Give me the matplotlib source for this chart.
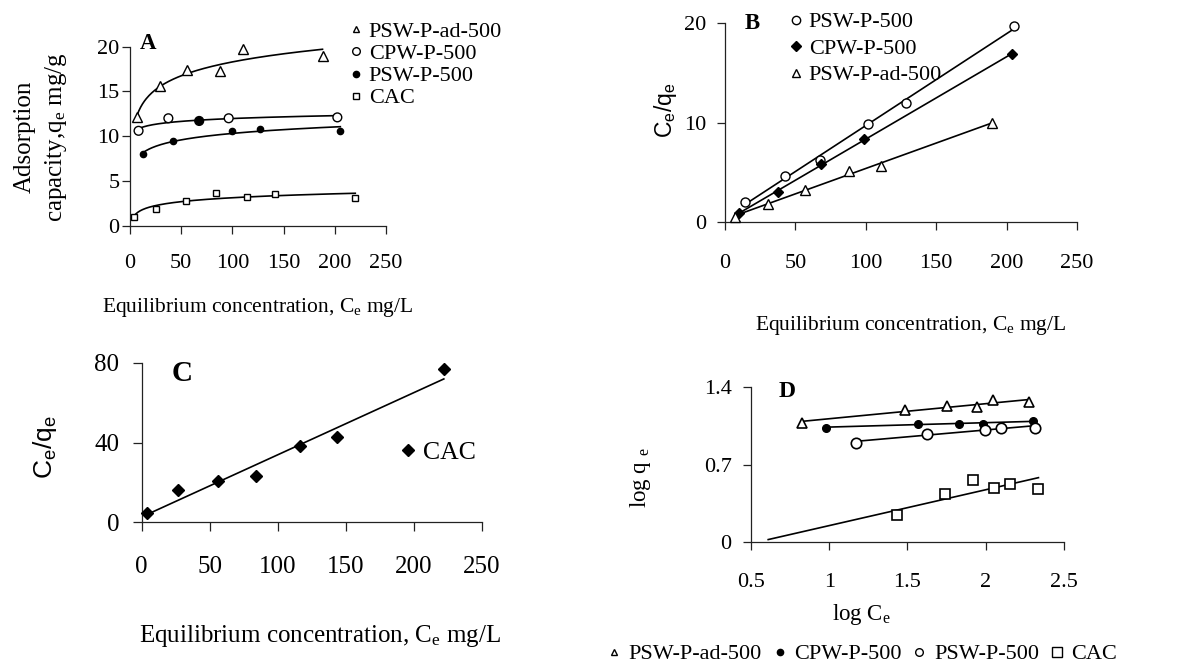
import numpy as np
import matplotlib
matplotlib.use('Agg')
import matplotlib.pyplot as plt
from matplotlib.lines import Line2D

plt.rcParams['font.family'] = ['Liberation Serif', 'DejaVu Serif']
plt.rcParams['mathtext.fontset'] = 'custom'
plt.rcParams['mathtext.rm'] = 'Liberation Serif'
plt.rcParams['mathtext.it'] = 'Liberation Serif:italic'
plt.rcParams['mathtext.sf'] = 'Liberation Sans'

# ---------------- Panel A: adsorption isotherms (Ce, qe) ----------------
a_ad_x = [6.8, 29.8, 55.6, 88.0, 110.6, 188.0]
a_ad_q = [12.1, 15.6, 17.4, 17.3, 19.7, 19.0]
a_cpw_x = [8.4, 37.5, 67.6, 96.4, 202.5]
a_cpw_q = [10.6, 12.0, 11.7, 12.0, 12.1]
a_psw_x = [12.9, 42.0, 99.6, 127.0, 205.4]
a_psw_q = [8.0, 9.5, 10.6, 10.8, 10.6]
a_cac_x = [3.6, 25.9, 54.7, 83.8, 114.0, 141.3, 220.0]
a_cac_q = [1.0, 1.9, 2.8, 3.7, 3.25, 3.5, 3.05]

# ---------------- Panel B: Langmuir (Ce vs Ce/qe) ----------------
b_psw_x = [14.2, 42.5, 67.4, 101.3, 128.4, 205.5]
b_psw_y = [2.0, 4.67, 6.24, 9.85, 12.0, 19.67]
b_cpw_x = [9.7, 37.3, 68.5, 98.6, 203.7]
b_cpw_y = [0.9, 3.07, 5.8, 8.3, 16.86]
b_ad_x = [6.8, 30.5, 56.5, 88.2, 110.8, 189.9]
b_ad_y = [0.57, 1.84, 3.24, 5.14, 5.64, 9.98]

# ---------------- Panel C: Langmuir CAC ----------------
c_cac_x = [4.2, 26.7, 55.8, 84.3, 116.4, 143.1, 221.9]
c_cac_y = [4.5, 16.3, 20.8, 23.1, 38.2, 42.8, 76.6]

# ---------------- Panel D: Freundlich (log Ce vs log qe) ----------------
d_ad_x = [0.825, 1.482, 1.75, 1.945, 2.048, 2.274]
d_ad_y = [1.078, 1.189, 1.226, 1.22, 1.28, 1.265]
d_cpw_x = [0.98, 1.57, 1.828, 1.985, 2.30]
d_cpw_y = [1.033, 1.069, 1.069, 1.069, 1.09]
d_psw_x = [1.17, 1.625, 1.995, 2.10, 2.316]
d_psw_y = [0.897, 0.979, 1.015, 1.033, 1.033]
# first CAC point lies on the x axis (no visible marker)
d_cac_x = [0.61, 1.432, 1.74, 1.918, 2.05, 2.154, 2.337]
d_cac_y = [0.0, 0.25, 0.437, 0.563, 0.491, 0.527, 0.476]

names = ['PSW-P-ad-500', 'CPW-P-500', 'PSW-P-500', 'CAC']

LW = 1.2
K = 'black'


def style(ax, xlim, ylim, xticks, yticks, fs, xpad, ypad, ticklen=5.5):
    ax.set_xlim(*xlim)
    ax.set_ylim(*ylim)
    ax.set_xticks(xticks)
    ax.set_yticks(yticks)
    for s in ['top', 'right']:
        ax.spines[s].set_visible(False)
    for s in ['left', 'bottom']:
        ax.spines[s].set_linewidth(0.9)
        ax.spines[s].set_color('#222222')
    ax.tick_params(axis='both', direction='out', length=ticklen, width=0.9,
                   color='#222222', labelsize=fs)
    ax.tick_params(axis='x', pad=xpad)
    ax.tick_params(axis='y', pad=ypad)
    ax.patch.set_alpha(0)


def log_trend(ax, x, q):
    # logarithmic trend line  q = a ln(Ce) + b, fitted to the points
    a, b = np.polyfit(np.log(x), q, 1)
    xs = np.linspace(min(x), max(x), 200)
    ax.plot(xs, a * np.log(xs) + b, color=K, lw=LW, zorder=2)


def linear_fit(ax, x, y):
    m, b = np.polyfit(x, y, 1)
    xs = np.array([min(x), max(x)])
    ax.plot(xs, m * xs + b, color=K, lw=LW, zorder=2)


fig = plt.figure(figsize=(12.01, 6.62), dpi=100)

# ================= Panel A =================
axA = fig.add_axes([0.1082, 0.6591, 0.2132, 0.2704])
style(axA, (0, 250), (0, 20), range(0, 251, 50), range(0, 21, 5), 16, 15, 2)
for x, q in [(a_ad_x, a_ad_q), (a_cpw_x, a_cpw_q), (a_psw_x, a_psw_q), (a_cac_x, a_cac_q)]:
    log_trend(axA, x, q)
axA.plot(a_ad_x, a_ad_q, ls='none', marker='^', ms=6.5, mfc='white', mec=K, mew=1.0, zorder=3, clip_on=False)
cpw_faces = ['white', 'white', 'black', 'white', 'white']
axA.scatter(a_cpw_x, a_cpw_q, s=40, marker='o', facecolors=cpw_faces, edgecolors=K, linewidths=1.0, zorder=3, clip_on=False)
axA.plot(a_psw_x, a_psw_q, ls='none', marker='o', ms=4.5, mfc=K, mec=K, zorder=3, clip_on=False)
axA.plot(a_cac_x, a_cac_q, ls='none', marker='s', ms=4.2, mfc='white', mec=K, mew=1.0, zorder=3, clip_on=False)
hA = [Line2D([], [], ls='none', marker='^', ms=5, mfc='white', mec=K, mew=1.0),
      Line2D([], [], ls='none', marker='o', ms=5.5, mfc='white', mec=K, mew=1.0),
      Line2D([], [], ls='none', marker='o', ms=4.5, mfc=K, mec=K),
      Line2D([], [], ls='none', marker='s', ms=4.2, mfc='white', mec=K, mew=1.0)]
axA.legend(hA, names, loc='upper left', bbox_to_anchor=(0.85, 1.14), frameon=False,
           fontsize=16, handlelength=0.75, handletextpad=0.2, labelspacing=0.07,
           borderpad=0, borderaxespad=0)
axA.text(0.072, 1.02, 'A', transform=axA.transAxes, fontsize=16.5, fontweight='bold',
         ha='center', va='center')
axA.set_xlabel('Equilibrium concentration, C$_{\\mathrm{e}}$ mg/L', fontsize=15.5)
axA.xaxis.set_label_coords(0.5, -0.455)
axA.xaxis.label.set_va('center')
axA.set_ylabel('Adsorption\ncapacity,q$_{\\mathrm{e}}$ mg/g', fontsize=18, linespacing=1.35)
axA.yaxis.set_label_coords(-0.346, 0.497)
axA.yaxis.label.set_va('center')

# ================= Panel B =================
axB = fig.add_axes([0.6037, 0.6642, 0.2931, 0.3015])
style(axB, (0, 250), (0, 20), range(0, 251, 50), range(0, 21, 10), 16, 17, 8)
for x, y in [(b_psw_x, b_psw_y), (b_cpw_x, b_cpw_y), (b_ad_x, b_ad_y)]:
    linear_fit(axB, x, y)
axB.plot(b_psw_x, b_psw_y, ls='none', marker='o', ms=6.5, mfc='white', mec=K, mew=1.0, zorder=3, clip_on=False)
axB.plot(b_cpw_x, b_cpw_y, ls='none', marker='D', ms=5, mfc=K, mec=K, zorder=3, clip_on=False)
axB.plot(b_ad_x, b_ad_y, ls='none', marker='^', ms=6.5, mfc='white', mec=K, mew=1.0, zorder=3, clip_on=False)
hB = [Line2D([], [], ls='none', marker='o', ms=6, mfc='white', mec=K, mew=1.0),
      Line2D([], [], ls='none', marker='D', ms=5, mfc=K, mec=K),
      Line2D([], [], ls='none', marker='^', ms=5.5, mfc='white', mec=K, mew=1.0)]
axB.legend(hB, [names[2], names[1], names[0]], loc='upper left', bbox_to_anchor=(0.175, 1.055),
           frameon=False, fontsize=16, handlelength=0.8, handletextpad=0.2,
           labelspacing=0.27, borderpad=0, borderaxespad=0)
axB.text(0.077, 0.995, 'B', transform=axB.transAxes, fontsize=16.5, fontweight='bold',
         ha='center', va='center')
axB.set_xlabel('Equilibrium concentration, C$_{\\mathrm{e}}$ mg/L', fontsize=15.5)
axB.xaxis.set_label_coords(0.528, -0.515)
axB.xaxis.label.set_va('center')
axB.set_ylabel('$\\mathsf{C_e/q_e}$', fontsize=16.5)
axB.yaxis.set_label_coords(-0.168, 0.563)
axB.yaxis.label.set_va('center')

# ================= Panel C =================
axC = fig.add_axes([0.118, 0.211, 0.2834, 0.2411])
style(axC, (0, 250), (0, 80), range(0, 251, 50), range(0, 81, 40), 18, 17.5, 9.5, ticklen=6.5)
linear_fit(axC, c_cac_x, c_cac_y)
axC.plot(c_cac_x, c_cac_y, ls='none', marker='D', ms=6, mfc=K, mec=K, zorder=3, clip_on=False)
hC = [Line2D([], [], ls='none', marker='D', ms=6, mfc=K, mec=K)]
axC.legend(hC, ['CAC'], loc='center left', bbox_to_anchor=(0.755, 0.436), frameon=False,
           fontsize=18.5, handlelength=0.7, handletextpad=0.25, borderpad=0, borderaxespad=0)
axC.text(0.119, 0.933, 'C', transform=axC.transAxes, fontsize=21, fontweight='bold',
         ha='center', va='center')
axC.set_xlabel('Equilibrium concentration, C$_{\\mathrm{e}}$ mg/L', fontsize=18)
axC.xaxis.set_label_coords(0.523, -0.713)
axC.xaxis.label.set_va('center')
axC.set_ylabel('$\\mathsf{C_e/q_e}$', fontsize=19)
axC.yaxis.set_label_coords(-0.285, 0.472)
axC.yaxis.label.set_va('center')

# ================= Panel D =================
axD = fig.add_axes([0.6253, 0.1808, 0.2606, 0.235])
style(axD, (0.5, 2.5), (0, 1.4), [0.5, 1, 1.5, 2, 2.5], [0, 0.7, 1.4], 16, 16, 8, ticklen=6)
axD.xaxis.set_major_formatter(matplotlib.ticker.FuncFormatter(lambda v, p: f'{v:g}'))
axD.yaxis.set_major_formatter(matplotlib.ticker.FuncFormatter(lambda v, p: f'{v:g}'))
for x, y in [(d_ad_x, d_ad_y), (d_cpw_x, d_cpw_y), (d_psw_x, d_psw_y), (d_cac_x, d_cac_y)]:
    linear_fit(axD, x, y)
axD.plot(d_ad_x, d_ad_y, ls='none', marker='^', ms=6.5, mfc='white', mec=K, mew=1.2, zorder=3)
axD.plot(d_cpw_x, d_cpw_y, ls='none', marker='o', ms=5.5, mfc=K, mec=K, zorder=3)
axD.plot(d_psw_x, d_psw_y, ls='none', marker='o', ms=7.5, mfc='white', mec=K, mew=1.2, zorder=3)
axD.plot(d_cac_x[1:], d_cac_y[1:], ls='none', marker='s', ms=7.5, mfc='white', mec=K, mew=1.2, zorder=3)
axD.text(0.117, 0.968, 'D', transform=axD.transAxes, fontsize=17, fontweight='bold',
         ha='center', va='center')
axD.set_xlabel('log C$_{\\mathrm{e}}$', fontsize=16.5)
axD.xaxis.set_label_coords(0.353, -0.465)
axD.xaxis.label.set_va('center')
axD.set_ylabel('log q $_{\\mathrm{e}}$', fontsize=16.5)
axD.yaxis.set_label_coords(-0.354, 0.419)
axD.yaxis.label.set_va('center')
hD = [Line2D([], [], ls='none', marker='^', ms=5, mfc='white', mec=K, mew=1.0),
      Line2D([], [], ls='none', marker='o', ms=4.5, mfc=K, mec=K),
      Line2D([], [], ls='none', marker='o', ms=5.5, mfc='white', mec=K, mew=1.0),
      Line2D([], [], ls='none', marker='s', ms=6.5, mfc='white', mec=K, mew=1.0)]
fig.legend(hD, names, loc='center left', bbox_to_anchor=(0.505, 0.012),
           ncol=4, frameon=False, fontsize=16, handlelength=0.7, handletextpad=0.3,
           columnspacing=0.45, borderpad=0, borderaxespad=0)

fig.savefig('out.png', dpi=100)
